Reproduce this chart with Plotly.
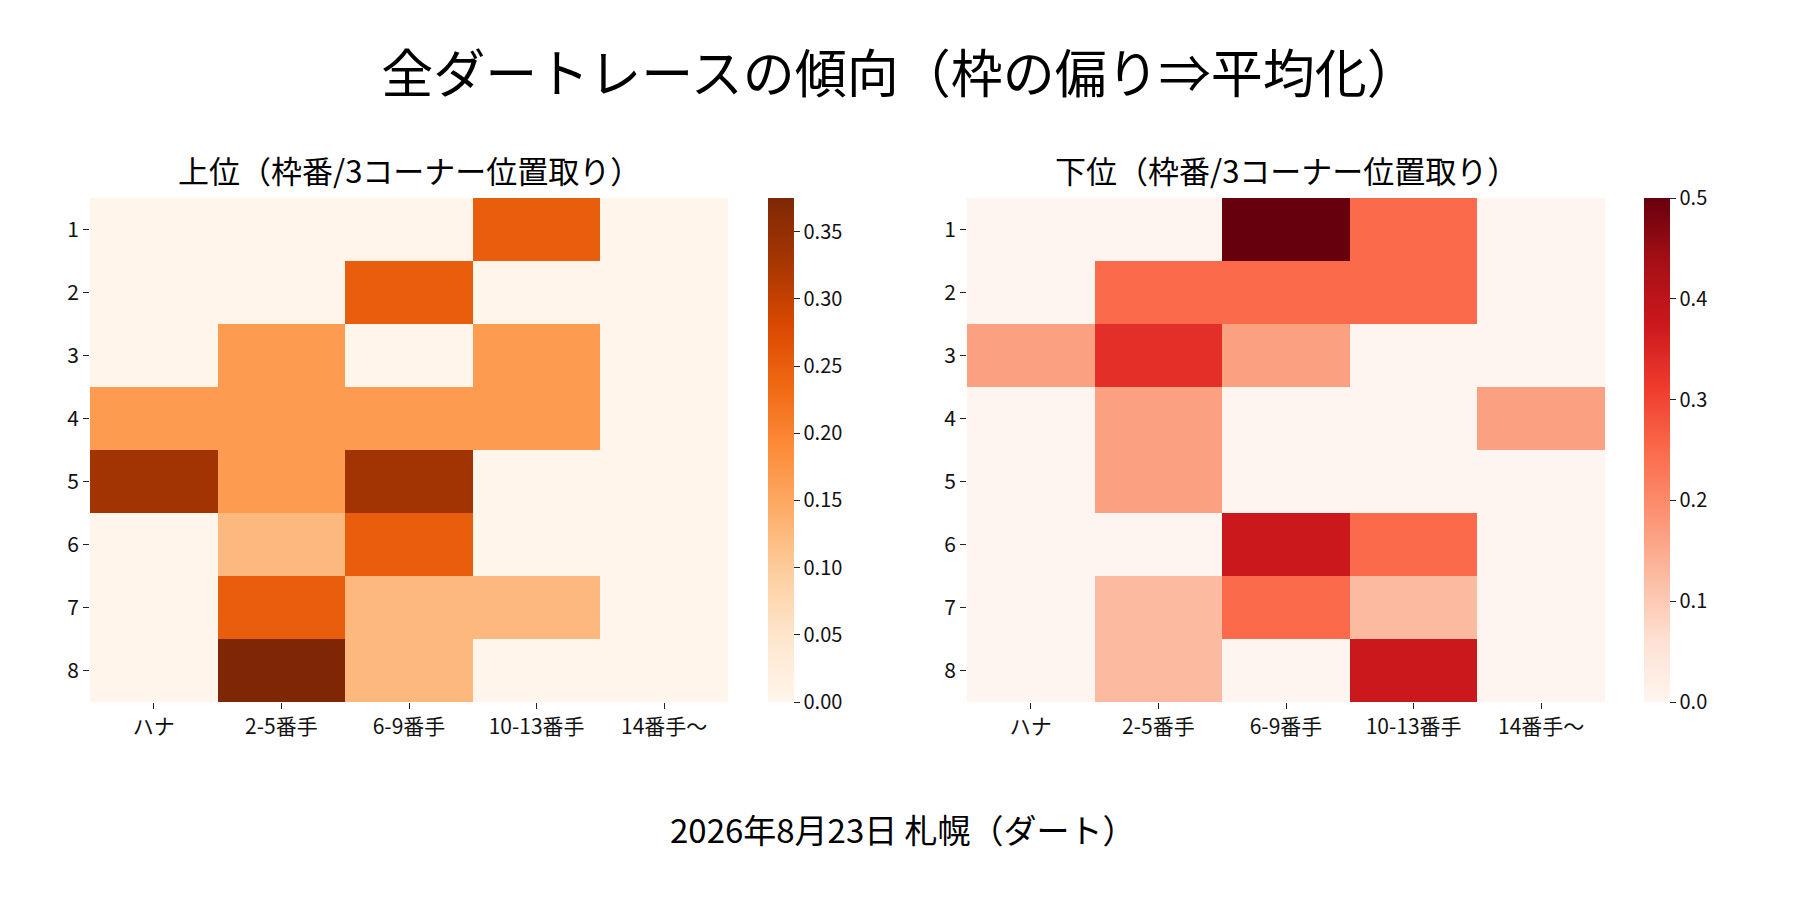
import plotly.graph_objects as go

# 枠番 x 3コーナー位置取り の割合
positions = ["ハナ", "2-5番手", "6-9番手", "10-13番手", "14番手〜"]
gates = ["1", "2", "3", "4", "5", "6", "7", "8"]

top_rates = [
    [0.0, 0.0, 0.0, 0.25, 0.0],
    [0.0, 0.0, 0.25, 0.0, 0.0],
    [0.0, 0.1667, 0.0, 0.1667, 0.0],
    [0.1667, 0.1667, 0.1667, 0.1667, 0.0],
    [0.3333, 0.1667, 0.3333, 0.0, 0.0],
    [0.0, 0.125, 0.25, 0.0, 0.0],
    [0.0, 0.25, 0.125, 0.125, 0.0],
    [0.0, 0.375, 0.125, 0.0, 0.0],
]

bottom_rates = [
    [0.0, 0.0, 0.5, 0.25, 0.0],
    [0.0, 0.25, 0.25, 0.25, 0.0],
    [0.1667, 0.3333, 0.1667, 0.0, 0.0],
    [0.0, 0.1667, 0.0, 0.0, 0.1667],
    [0.0, 0.1667, 0.0, 0.0, 0.0],
    [0.0, 0.0, 0.375, 0.25, 0.0],
    [0.0, 0.125, 0.25, 0.125, 0.0],
    [0.0, 0.125, 0.0, 0.375, 0.0],
]

top_ticks = [0.0, 0.05, 0.10, 0.15, 0.20, 0.25, 0.30, 0.35]
bottom_ticks = [0.0, 0.1, 0.2, 0.3, 0.4, 0.5]

FONT = "Noto Sans CJK JP"
W, H = 1800, 900
OFF = 8  # page body margin
y_top, y_bot = 1 - (198 - OFF) / H, 1 - (702 - OFF) / H
cb_len = y_top - y_bot
cb_mid = (y_top + y_bot) / 2


def px(v):
    return (v - OFF) / W


def py(v):
    return 1 - (v - OFF) / H


def colorbar(x, ticks, fmt):
    return dict(
        x=x, xanchor="left", y=cb_mid, yanchor="middle",
        len=cb_len, lenmode="fraction", thickness=26, xpad=0, ypad=0,
        outlinewidth=0, ticks="outside", ticklen=6, tickwidth=1.3,
        tickcolor="#222", tickvals=ticks, tickformat=fmt,
        tickfont=dict(family=FONT, size=20, color="#111"),
    )


fig = go.Figure()
fig.add_trace(go.Heatmap(
    z=top_rates, x=positions, y=gates, colorscale="Oranges",
    zmin=0, zmax=0.375, xaxis="x", yaxis="y",
    colorbar=colorbar(px(768), top_ticks, ".2f"),
))
fig.add_trace(go.Heatmap(
    z=bottom_rates, x=positions, y=gates, colorscale="Reds",
    zmin=0, zmax=0.5, xaxis="x2", yaxis="y2",
    colorbar=colorbar(px(1644), bottom_ticks, ".1f"),
))

axis_style = dict(
    showgrid=False, zeroline=False, showline=False,
    ticks="outside", ticklen=6, tickwidth=1.3, tickcolor="#222",
    tickfont=dict(family=FONT, size=21, color="#111"),
)

fig.update_layout(
    width=W, height=H,
    paper_bgcolor="white", plot_bgcolor="white",
    margin=dict(l=0, r=0, t=0, b=0, autoexpand=False),
    font=dict(family=FONT, color="black"),
    xaxis=dict(domain=[px(90), px(728)], anchor="y", **axis_style),
    yaxis=dict(domain=[y_bot, y_top], anchor="x", autorange="reversed", **axis_style),
    xaxis2=dict(domain=[px(967), px(1605)], anchor="y2", **axis_style),
    yaxis2=dict(domain=[y_bot, y_top], anchor="x2", autorange="reversed", **axis_style),
    title=dict(
        text="全ダートレースの傾向（枠の偏り⇒平均化）",
        x=px(900), xanchor="center", y=py(75), yanchor="middle",
        font=dict(family=FONT, size=52, color="black"),
    ),
    annotations=[
        dict(text="上位（枠番/3コーナー位置取り）", x=px(409), y=py(170),
             xref="paper", yref="paper", xanchor="center", yanchor="middle",
             showarrow=False, font=dict(family=FONT, size=31, color="black")),
        dict(text="下位（枠番/3コーナー位置取り）", x=px(1286), y=py(170),
             xref="paper", yref="paper", xanchor="center", yanchor="middle",
             showarrow=False, font=dict(family=FONT, size=31, color="black")),
        dict(text="2026年8月23日 札幌（ダート）", x=px(903), y=py(829),
             xref="paper", yref="paper", xanchor="center", yanchor="middle",
             showarrow=False, font=dict(family=FONT, size=33, color="black")),
    ],
)

fig.write_html("out.html")
